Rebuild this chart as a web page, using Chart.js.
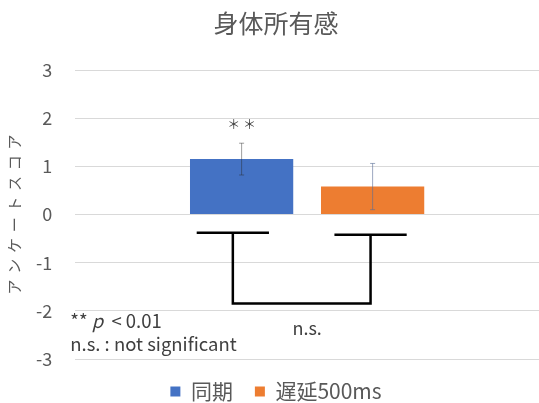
<!DOCTYPE html>
<html>
<head>
<meta charset="utf-8">
<script src="https://cdn.jsdelivr.net/npm/chart.js@4/dist/chart.umd.min.js"></script>
<style>
  html, body { margin: 0; padding: 0; background: #fff; }
  #wrap { width: 539px; height: 403px; }
</style>
</head>
<body>
<div id="wrap"><canvas id="scoreChart"></canvas></div>
<script>
// データ
const categories = [''];
const seriesNames = ['同期', '遅延500ms'];
const means = [1.15, 0.58];
const errors = [0.33, 0.48];
const yMin = -3;
const yMax = 3;

// 有意差表記
const sigMarks = ['＊ ＊', ''];
const sigHeight = 1.88;
const bracketTops = [-0.38, -0.42];
const bracketBottom = -1.85;
const bracketLabel = 'n.s.';
const bracketLabelY = -2.37;
const notes = ['** p < 0.01', 'n.s. : not significant'];
const noteY = [-2.21, -2.68];

const colors = ['#4472C4', '#ED7D31'];
const errColors = ['rgba(40, 40, 40, 0.45)', 'rgba(90, 110, 150, 0.6)'];
const FONT = '"Noto Sans CJK JP", "Noto Sans", sans-serif';
const TEXT = '#595959';

// エラーバー・ブラケット・注記を描く
const annotationPlugin = {
    id: 'annotations',
    afterDatasetsDraw(chart) {
        const { ctx, chartArea, scales: { y } } = chart;
        const bars = chart.data.datasets.map((ds, i) => chart.getDatasetMeta(i).data[0]);
        ctx.save();

        // エラーバー
        bars.forEach((bar, i) => {
            const top = y.getPixelForValue(means[i] + errors[i]);
            const bot = y.getPixelForValue(means[i] - errors[i]);
            ctx.strokeStyle = errColors[i];
            ctx.lineWidth = 1;
            ctx.beginPath();
            ctx.moveTo(bar.x, top);
            ctx.lineTo(bar.x, bot);
            ctx.moveTo(bar.x - 2.5, top);
            ctx.lineTo(bar.x + 2.5, top);
            ctx.moveTo(bar.x - 2.5, bot);
            ctx.lineTo(bar.x + 2.5, bot);
            ctx.stroke();
        });

        // ＊＊
        ctx.fillStyle = '#404040';
        ctx.font = '13px ' + FONT;
        ctx.textAlign = 'center';
        ctx.textBaseline = 'middle';
        bars.forEach((bar, i) => {
            if (sigMarks[i]) ctx.fillText(sigMarks[i], bar.x, y.getPixelForValue(sigHeight));
        });

        // ブラケット
        const offsets = [-0.085, -0.02];
        const xs = bars.map((bar, i) => bar.x + bar.width * offsets[i]);
        const half = bars[0].width * 0.35;
        const yb = y.getPixelForValue(bracketBottom);
        ctx.strokeStyle = '#000';
        ctx.lineWidth = 2.5;
        ctx.lineJoin = 'miter';
        xs.forEach((x, i) => {
            const yt = y.getPixelForValue(bracketTops[i]);
            ctx.beginPath();
            ctx.moveTo(x - half, yt);
            ctx.lineTo(x + half, yt);
            ctx.stroke();
        });
        ctx.beginPath();
        ctx.moveTo(xs[0], y.getPixelForValue(bracketTops[0]));
        ctx.lineTo(xs[0], yb);
        ctx.lineTo(xs[1], yb);
        ctx.lineTo(xs[1], y.getPixelForValue(bracketTops[1]));
        ctx.stroke();

        ctx.fillStyle = '#404040';
        ctx.font = '18px ' + FONT;
        ctx.fillText(bracketLabel, (chartArea.left + chartArea.right) / 2, y.getPixelForValue(bracketLabelY));

        // 注記
        ctx.textAlign = 'left';
        ctx.font = '18.5px ' + FONT;
        const nx = chartArea.left - 5;
        const ny0 = y.getPixelForValue(noteY[0]);
        let x = nx;
        ctx.fillText('** ', x, ny0);
        x += ctx.measureText('** ').width;
        ctx.font = 'italic 18.5px ' + FONT;
        ctx.fillText('p', x, ny0);
        x += ctx.measureText('p').width;
        ctx.font = '18.5px ' + FONT;
        ctx.fillText('  < 0.01', x, ny0);
        ctx.fillText(notes[1], nx, y.getPixelForValue(noteY[1]));

        ctx.restore();
    },
    afterDraw(chart) {
        // 縦軸タイトル（字間広め）
        const { ctx, chartArea } = chart;
        const title = 'アンケートスコア';
        const step = 20.7;
        const cy = (chartArea.top + chartArea.bottom) / 2;
        ctx.save();
        ctx.translate(14, cy);
        ctx.rotate(-Math.PI / 2);
        ctx.fillStyle = TEXT;
        ctx.font = '15px ' + FONT;
        ctx.textAlign = 'center';
        ctx.textBaseline = 'middle';
        const chars = [...title];
        chars.forEach((c, i) => {
            ctx.fillText(c, (i - (chars.length - 1) / 2) * step, 0);
        });
        ctx.restore();
    }
};

new Chart(document.getElementById('scoreChart'), {
    type: 'bar',
    data: {
        labels: categories,
        datasets: seriesNames.map((name, i) => ({
            label: name,
            data: [means[i]],
            backgroundColor: colors[i],
            borderWidth: 0
        }))
    },
    options: {
        responsive: true,
        maintainAspectRatio: false,
        animation: false,
        devicePixelRatio: 1,
        categoryPercentage: 0.565,
        barPercentage: 0.788,
        layout: { padding: { left: 13, right: 0, top: 0, bottom: -9 } },
        plugins: {
            title: {
                display: true,
                text: '身体所有感',
                color: TEXT,
                font: { family: FONT, size: 25, weight: 'normal' },
                padding: { top: 8, bottom: 32 }
            },
            legend: {
                position: 'bottom',
                labels: {
                    color: TEXT,
                    font: { family: FONT, size: 21 },
                    boxWidth: 10,
                    boxHeight: 10,
                    padding: 22
                }
            },
            tooltip: { enabled: false }
        },
        scales: {
            x: { display: false },
            y: {
                min: yMin,
                max: yMax,
                ticks: {
                    stepSize: 1,
                    padding: 23,
                    color: TEXT,
                    font: { family: FONT, size: 18 }
                },
                grid: { color: '#d9d9d9', drawTicks: false },
                border: { display: false }
            }
        }
    },
    plugins: [annotationPlugin]
});
</script>
</body>
</html>
